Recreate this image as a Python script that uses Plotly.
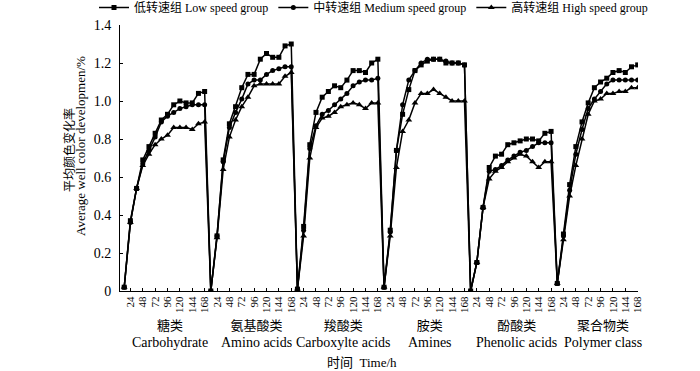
import plotly.graph_objects as go

# ---- data ----
groups_cn = ["糖类", "氨基酸类", "羧酸类", "胺类", "酚酸类", "聚合物类"]
groups_en = ["Carbohydrate", "Amino acids", "Carboxylte acids", "Amines", "Phenolic acids", "Polymer class"]
times = [0, 24, 36, 48, 60, 72, 84, 96, 108, 120, 132, 144, 156, 168]
tick_times = [24, 48, 72, 96, 120, 144, 168]

low = [
    [0.02, 0.37, 0.54, 0.69, 0.76, 0.83, 0.90, 0.93, 0.98, 1.00, 0.99, 0.99, 1.04, 1.05],
    [0.00, 0.29, 0.69, 0.88, 0.97, 1.07, 1.14, 1.14, 1.22, 1.25, 1.23, 1.23, 1.29, 1.30],
    [0.01, 0.34, 0.77, 0.94, 1.02, 1.05, 1.08, 1.07, 1.11, 1.16, 1.16, 1.15, 1.20, 1.22],
    [0.02, 0.32, 0.74, 0.93, 1.06, 1.16, 1.19, 1.21, 1.22, 1.22, 1.20, 1.20, 1.20, 1.19],
    [0.00, 0.15, 0.44, 0.65, 0.71, 0.72, 0.77, 0.78, 0.79, 0.80, 0.80, 0.79, 0.83, 0.84],
    [0.04, 0.30, 0.56, 0.76, 0.89, 0.99, 1.07, 1.10, 1.12, 1.15, 1.16, 1.15, 1.18, 1.19],
]
medium = [
    [0.02, 0.36, 0.54, 0.67, 0.74, 0.81, 0.89, 0.92, 0.94, 0.96, 0.97, 0.98, 0.98, 0.98],
    [0.00, 0.29, 0.68, 0.86, 0.94, 1.01, 1.09, 1.11, 1.11, 1.14, 1.16, 1.17, 1.18, 1.18],
    [0.01, 0.32, 0.75, 0.87, 0.93, 0.95, 0.98, 1.01, 1.04, 1.08, 1.10, 1.11, 1.11, 1.12],
    [0.02, 0.31, 0.74, 0.98, 1.11, 1.16, 1.20, 1.22, 1.22, 1.22, 1.21, 1.20, 1.20, 1.19],
    [0.00, 0.15, 0.44, 0.63, 0.64, 0.66, 0.69, 0.71, 0.73, 0.74, 0.76, 0.78, 0.78, 0.78],
    [0.04, 0.29, 0.53, 0.72, 0.85, 0.96, 1.01, 1.05, 1.09, 1.11, 1.11, 1.11, 1.11, 1.11],
]
high = [
    [0.02, 0.36, 0.54, 0.66, 0.72, 0.77, 0.80, 0.82, 0.86, 0.86, 0.86, 0.85, 0.88, 0.89],
    [0.00, 0.28, 0.64, 0.81, 0.90, 0.97, 1.02, 1.08, 1.09, 1.09, 1.09, 1.09, 1.13, 1.15],
    [0.01, 0.29, 0.70, 0.86, 0.91, 0.92, 0.94, 0.97, 0.98, 0.99, 0.98, 0.96, 0.99, 0.99],
    [0.02, 0.29, 0.65, 0.84, 0.90, 0.99, 1.04, 1.04, 1.06, 1.04, 1.02, 1.00, 1.00, 1.00],
    [0.00, 0.15, 0.44, 0.59, 0.63, 0.65, 0.68, 0.70, 0.72, 0.71, 0.68, 0.65, 0.68, 0.68],
    [0.04, 0.27, 0.50, 0.66, 0.80, 0.93, 1.00, 1.01, 1.04, 1.04, 1.05, 1.05, 1.07, 1.07],
]

series_names = ["低转速组 Low speed group", "中转速组 Medium speed group", "高转速组 High speed group"]
series_values = [low, medium, high]
series_symbols = ["square", "circle", "triangle-up"]
series_sizes = [5, 5, 6]

y_ticks = [0, 0.2, 0.4, 0.6, 0.8, 1.0, 1.2, 1.4]
y_ticktext = ["0", "0.2", "0.4", "0.6", "0.8", "1.0", "1.2", "1.4"]

FONT = "Liberation Serif, Noto Sans CJK SC, serif"
n_per = len(times)

# categorical slot positions for every point
xs = [g * n_per + i for g in range(len(groups_cn)) for i in range(n_per)]
tickvals = [g * n_per + times.index(t) for g in range(len(groups_cn)) for t in tick_times]
ticktext = [str(t) for _ in groups_cn for t in tick_times]

fig = go.Figure()
for name, vals, sym, sz in zip(series_names, series_values, series_symbols, series_sizes):
    ys = [v for grp in vals for v in grp]
    fig.add_trace(go.Scatter(
        x=xs, y=ys, name=name, mode="lines+markers",
        line=dict(color="black", width=1.5),
        marker=dict(symbol=sym, size=sz, color="black"),
    ))

L, R, T, B = 120, 62, 25, 80
PLOT_W = 700 - L - R
PLOT_H = 371 - T - B
def py(px_from_axis):  # pixel offset below x-axis -> paper y
    return -px_from_axis / PLOT_H
def px(xpix):
    return (xpix - L) / PLOT_W

annotations = []
for g, (cn, en) in enumerate(zip(groups_cn, groups_en)):
    xc = g * n_per + (n_per - 1) / 2 + 0.9
    annotations.append(dict(
        x=xc, xref="x", y=py(43), yref="paper", yanchor="middle", xanchor="center",
        text=cn + "<br><span style='font-size:14px'>" + en + "</span>",
        showarrow=False, borderpad=0,
        font=dict(family=FONT, size=13, color="black"),
    ))
annotations.append(dict(
    x=px(362), xref="paper", y=py(71), yref="paper",
    yanchor="middle", xanchor="center",
    text="时间  Time/h", showarrow=False,
    font=dict(family=FONT, size=13, color="black"),
))
annotations.append(dict(
    x=px(69), xref="paper", y=(291 - 150) / PLOT_H, yref="paper",
    xanchor="center", yanchor="middle",
    text="平均颜色变化率", textangle=-90,
    showarrow=False, font=dict(family=FONT, size=12, color="black"),
))
annotations.append(dict(
    x=px(80), xref="paper", y=(291 - 146) / PLOT_H, yref="paper",
    xanchor="center", yanchor="middle",
    text="Average well color developmen/%", textangle=-90,
    showarrow=False, font=dict(family=FONT, size=13, color="black"),
))

fig.update_layout(
    width=700, height=371,
    margin=dict(l=L, r=R, t=T, b=B, autoexpand=False),
    paper_bgcolor="white", plot_bgcolor="white",
    font=dict(family=FONT, size=12, color="black"),
    showlegend=True,
    legend=dict(orientation="h", xref="paper", x=px(94), xanchor="left",
                yref="paper", y=(PLOT_H + T + 7) / PLOT_H, yanchor="top",
                font=dict(family=FONT, size=12, color="black"),
                bgcolor="rgba(0,0,0,0)",
                itemwidth=30, tracegroupgap=0),
    annotations=annotations,
    xaxis=dict(range=[-0.68, 83.05], tickvals=tickvals, ticktext=ticktext,
               tickangle=-90, ticks="inside", ticklen=3, tickcolor="black",
               showline=True, linecolor="black", linewidth=1,
               showgrid=False, zeroline=False,
               tickfont=dict(family=FONT, size=11)),
    yaxis=dict(range=[0, 1.4], tickvals=y_ticks, ticktext=y_ticktext,
               ticks="inside", ticklen=3, tickcolor="black",
               showline=True, linecolor="black", linewidth=1,
               showgrid=False, zeroline=False, ticklabelstandoff=5,
               tickfont=dict(family=FONT, size=14)),
)

fig.write_html("out.html", config={"displayModeBar": False},
               post_script="document.body.style.margin='0';document.body.style.padding='0';")
